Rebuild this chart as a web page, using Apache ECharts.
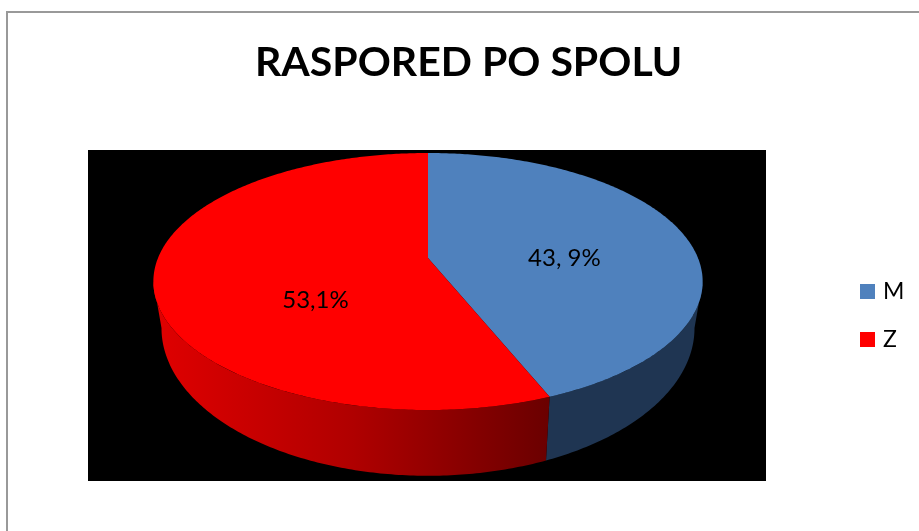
<!DOCTYPE html>
<html>
<head>
<meta charset="utf-8">
<style>html,body{margin:0;padding:0;background:#fff}#chart{width:919px;height:531px}</style>
<script src="https://cdn.jsdelivr.net/npm/echarts@6/dist/echarts.min.js"></script>
</head>
<body>
<div id="chart"></div>
<script>
var titleText = 'RASPORED PO SPOLU';
var categories = ['M', 'Z'];
var values = [43.9, 56.1];
var valueLabels = ['43, 9%', '53,1%'];
var topColors = ['#4F81BD', '#FF0000'];
var labelAngles = [90, 231];

var FONT = 'Lato, "Open Sans", sans-serif';
var CX = 428;
var PERSP = 0.183;
var TOP_RIM = { k: 270, a: -77, b: 258 };
var BOTTOM_RIM = { k: 262, a: -87.7, b: 301 };
var total = values.reduce(function (s, v) { return s + v; }, 0);

function project(rim, deg, r) {
  var t = deg * Math.PI / 180;
  var X = r * Math.sin(t), Y = r * Math.cos(t);
  var d = 1 + PERSP * Y;
  return [CX + rim.k * X / d, (rim.a * Y + rim.b) / d];
}
function sweep(rim, from, to) {
  var pts = [], n = Math.max(2, Math.ceil(Math.abs(to - from) * 1.5));
  for (var i = 0; i <= n; i++) pts.push(project(rim, from + (to - from) * i / n, 1));
  return pts;
}
function wallFill(idx) {
  if (idx === 0) return '#1F3552';
  return new echarts.graphic.LinearGradient(0, 0, 1, 0, [
    { offset: 0, color: '#E00000' },
    { offset: 0.5, color: '#B00000' },
    { offset: 1, color: '#6A0000' }
  ]);
}
function renderSlice(idx) {
  return function () {
    var before = 0;
    for (var i = 0; i < idx; i++) before += values[i];
    var start = before / total * 360;
    var end = (before + values[idx]) / total * 360;
    var children = [];
    var wallA = Math.max(start, 100.5), wallB = Math.min(end, 259.5);
    if (wallB > wallA) {
      var wall = sweep(TOP_RIM, wallA, wallB).concat(sweep(BOTTOM_RIM, wallB, wallA));
      children.push({ type: 'polygon', shape: { points: wall }, style: { fill: wallFill(idx) } });
    }
    var top = [project(TOP_RIM, 0, 0)].concat(sweep(TOP_RIM, start, end));
    children.push({ type: 'polygon', shape: { points: top }, style: { fill: topColors[idx] } });
    var lp = project(TOP_RIM, labelAngles[idx], 0.505);
    children.push({
      type: 'text', x: lp[0], y: lp[1],
      style: { text: valueLabels[idx], fill: '#000', font: '24px ' + FONT, align: 'center', verticalAlign: 'middle' }
    });
    return { type: 'group', children: children };
  };
}

var chart = echarts.init(document.getElementById('chart'), null, { renderer: 'canvas' });
chart.setOption({
  animation: false,
  backgroundColor: '#fff',
  title: {
    text: titleText, left: 250, top: 37,
    textStyle: { fontFamily: FONT, fontWeight: 'bold', fontSize: 41, color: '#000' }
  },
  legend: {
    orient: 'vertical', left: 855, top: 275, itemWidth: 15, itemHeight: 15, itemGap: 25,
    icon: 'rect', data: categories,
    textStyle: { fontFamily: FONT, fontSize: 23, lineHeight: 23, color: '#000', padding: [0, 0, 0, 3] }
  },
  graphic: [
    { type: 'rect', z: -5, shape: { x: 88, y: 150, width: 678, height: 331 }, style: { fill: '#000' } },
    { type: 'rect', z: -5, shape: { x: 6, y: 11, width: 2, height: 520 }, style: { fill: '#999' } },
    { type: 'rect', z: -5, shape: { x: 6, y: 11, width: 913, height: 2 }, style: { fill: '#999' } }
  ],
  series: categories.map(function (name, idx) {
    return {
      type: 'custom', name: name, coordinateSystem: 'none', clip: false,
      itemStyle: { color: topColors[idx] },
      data: [values[idx]],
      renderItem: renderSlice(idx)
    };
  })
});
</script>
</body>
</html>
